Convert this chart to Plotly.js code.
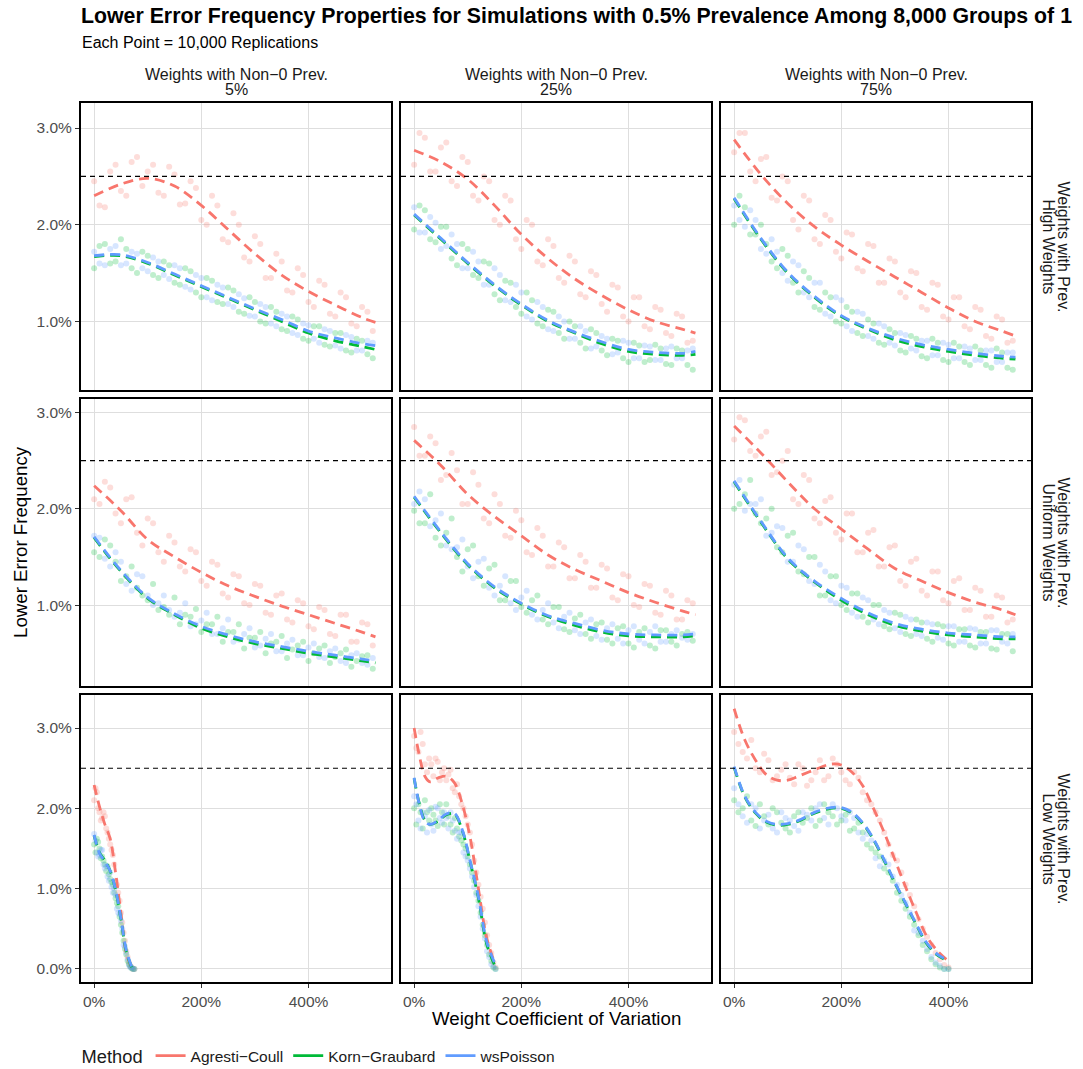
<!DOCTYPE html>
<html><head><meta charset="utf-8">
<script src="https://cdn.plot.ly/plotly-3.0.1.min.js"></script>
<style>html,body{margin:0;padding:0;background:#fff}</style>
</head><body><div id="chart" style="width:1083px;height:1069px"></div>
<script>
// ---------- data (values in percent) ----------
const methods = ['Agresti−Coull', 'Korn−Graubard', 'wsPoisson'];
const colLabels = ['5%', '25%', '75%'];
const rowLabels = ['High Weights', 'Uniform Weights', 'Low Weights'];
const targetLevel = 2.5;
const xTickVals = [0, 200, 400];
const xTickText = ['0%', '200%', '400%'];
const yTickVals = [0, 1, 2, 3];
const yTickText = ['0.0%', '1.0%', '2.0%', '3.0%'];

// rows 1-2 share the same CV grids
const cvGrid = [0,20,40,60,80,100,120,140,160,180,200,220,240,260,280,300,320,340,360,380,400,420,440,460,480,500,520];
const cvGrid2 = [10,30,50,70,90,110,130,150,170,190,210,230,250,270,290,310,330,350,370,390,410,430,450,470,490,510];
const cvSmooth = [0,50,100,150,200,250,300,350,400,450,500,525];

// Row 1: High Weights
const p11_ac = [2.45,2.18,2.62,2.30,2.70,2.55,2.33,2.60,2.21,2.45,2.05,2.30,1.85,2.12,1.66,1.88,1.45,1.70,1.32,1.55,1.20,1.42,1.08,1.30,0.98,1.15,0.90];
const p11_kg = [1.55,1.80,1.62,1.75,1.50,1.68,1.45,1.58,1.38,1.52,1.25,1.42,1.18,1.32,1.08,1.20,0.98,1.10,0.90,1.02,0.80,0.95,0.74,0.88,0.68,0.80,0.62];
const p11_wp = [1.72,1.58,1.78,1.60,1.70,1.52,1.62,1.44,1.55,1.33,1.45,1.22,1.35,1.15,1.24,1.05,1.15,0.95,1.05,0.86,0.96,0.78,0.90,0.72,0.84,0.70,0.78];
const p11_acB = [2.20,2.55,2.35,2.65,2.40,2.62,2.30,2.52,2.22,2.38,2.00,2.20,1.82,2.00,1.62,1.80,1.45,1.62,1.30,1.48,1.15,1.38,1.05,1.25,0.95,1.10];
const p11_kgB = [1.78,1.60,1.85,1.55,1.72,1.48,1.62,1.40,1.55,1.30,1.45,1.20,1.35,1.10,1.25,1.00,1.15,0.92,1.05,0.82,0.95,0.76,0.88,0.70,0.82,0.66];
const p11_wpB = [1.60,1.75,1.58,1.72,1.55,1.66,1.48,1.58,1.36,1.48,1.25,1.38,1.18,1.28,1.06,1.18,0.98,1.08,0.88,0.98,0.82,0.92,0.75,0.86,0.70,0.80];
const p11_acLine = [2.30,2.42,2.48,2.40,2.20,1.95,1.70,1.48,1.31,1.17,1.04,0.99];
const p11_kgLine = [1.67,1.68,1.60,1.48,1.36,1.24,1.12,1.00,0.88,0.80,0.74,0.71];
const p11_wpLine = [1.68,1.69,1.61,1.49,1.37,1.25,1.13,1.02,0.90,0.83,0.77,0.75];

const p12_ac = [2.62,2.90,2.55,2.85,2.40,2.65,2.25,2.45,2.00,2.25,1.75,2.00,1.58,1.78,1.40,1.62,1.25,1.48,1.10,1.35,1.00,1.25,0.92,1.12,0.85,1.05,0.80];
const p12_kg = [1.95,2.15,1.82,1.98,1.58,1.75,1.45,1.60,1.22,1.40,1.08,1.22,0.95,1.10,0.82,0.95,0.72,0.88,0.65,0.80,0.58,0.75,0.60,0.72,0.55,0.70,0.50];
const p12_wp = [2.18,1.92,2.02,1.78,1.80,1.55,1.62,1.38,1.48,1.20,1.30,1.02,1.15,0.90,1.00,0.82,0.90,0.74,0.82,0.68,0.78,0.62,0.74,0.60,0.74,0.62,0.72];
const p12_acB = [2.95,2.55,2.80,2.45,2.70,2.30,2.50,2.05,2.30,1.85,2.05,1.62,1.85,1.45,1.68,1.28,1.52,1.18,1.38,1.05,1.25,0.95,1.15,0.88,1.08,0.78];
const p12_kgB = [2.20,1.85,1.98,1.65,1.80,1.48,1.62,1.28,1.42,1.15,1.30,0.98,1.12,0.88,1.00,0.78,0.92,0.70,0.82,0.62,0.78,0.58,0.76,0.56,0.72,0.55];
const p12_wpB = [1.92,2.08,1.75,1.90,1.55,1.72,1.38,1.55,1.22,1.38,1.05,1.20,0.92,1.05,0.82,0.95,0.72,0.85,0.66,0.80,0.62,0.75,0.60,0.72,0.62,0.70];
const p12_acLine = [2.77,2.65,2.47,2.20,1.90,1.65,1.44,1.27,1.12,1.00,0.92,0.88];
const p12_kgLine = [2.10,1.85,1.60,1.37,1.17,1.00,0.88,0.77,0.69,0.66,0.65,0.66];
const p12_wpLine = [2.11,1.86,1.61,1.38,1.18,1.01,0.89,0.79,0.71,0.68,0.67,0.69];

const p13_ac = [2.75,2.95,2.45,2.70,2.25,2.45,1.95,2.25,1.80,2.05,1.65,1.90,1.52,1.78,1.40,1.62,1.25,1.50,1.12,1.38,1.02,1.25,0.92,1.12,0.82,1.02,0.80];
const p13_kg = [2.00,2.18,1.90,1.80,1.55,1.68,1.30,1.45,1.12,1.25,0.98,1.10,0.85,0.98,0.76,0.88,0.68,0.82,0.62,0.78,0.58,0.74,0.55,0.70,0.52,0.68,0.50];
const p13_wp = [2.20,1.98,2.05,1.70,1.72,1.42,1.58,1.25,1.40,1.05,1.22,0.90,1.08,0.82,0.95,0.75,0.86,0.70,0.80,0.65,0.76,0.62,0.72,0.60,0.70,0.58,0.68];
const p13_acB = [2.95,2.55,2.68,2.28,2.50,2.05,2.30,1.85,2.10,1.72,1.92,1.55,1.80,1.40,1.65,1.30,1.52,1.15,1.40,1.05,1.25,0.95,1.15,0.85,1.05,0.78];
const p13_kgB = [2.30,1.90,2.00,1.62,1.75,1.40,1.52,1.15,1.30,1.00,1.15,0.88,1.02,0.78,0.92,0.70,0.85,0.64,0.82,0.60,0.78,0.58,0.74,0.55,0.72,0.52];
const p13_wpB = [2.05,2.15,1.75,1.85,1.50,1.62,1.30,1.40,1.08,1.25,0.95,1.10,0.85,0.98,0.78,0.88,0.72,0.80,0.65,0.78,0.62,0.74,0.60,0.70,0.58,0.68];
const p13_acLine = [2.88,2.52,2.22,1.98,1.79,1.62,1.46,1.30,1.14,1.00,0.90,0.85];
const p13_kgLine = [2.27,1.85,1.50,1.25,1.05,0.92,0.81,0.74,0.69,0.65,0.62,0.61];
const p13_wpLine = [2.28,1.86,1.51,1.26,1.06,0.93,0.83,0.76,0.71,0.67,0.64,0.63];

// Row 2: Uniform Weights
const p21_ac = [2.10,2.28,1.95,2.10,1.75,1.90,1.55,1.72,1.40,1.58,1.25,1.45,1.12,1.32,1.02,1.22,0.92,1.10,0.85,1.05,0.78,0.98,0.70,0.90,0.62,0.82,0.58];
const p21_kg = [1.55,1.68,1.45,1.30,1.18,1.05,0.95,0.90,0.80,0.88,0.72,0.80,0.62,0.72,0.55,0.66,0.50,0.62,0.45,0.58,0.42,0.55,0.40,0.50,0.36,0.47,0.34];
const p21_wp = [1.72,1.48,1.55,1.22,1.32,1.10,1.02,0.95,0.92,0.78,0.84,0.70,0.76,0.62,0.70,0.56,0.65,0.52,0.60,0.48,0.56,0.46,0.52,0.42,0.48,0.40,0.45];
const p21_acB = [2.05,2.22,1.85,2.12,1.62,1.85,1.45,1.65,1.35,1.55,1.20,1.42,1.08,1.30,1.00,1.20,0.90,1.12,0.82,1.02,0.75,0.95,0.68,0.90,0.62,0.80];
const p21_kgB = [1.50,1.62,1.25,1.40,1.10,1.22,0.98,1.08,0.90,0.96,0.80,0.88,0.72,0.80,0.66,0.72,0.60,0.68,0.54,0.62,0.50,0.58,0.46,0.54,0.42,0.48];
const p21_wpB = [1.70,1.40,1.45,1.15,1.30,1.00,1.10,0.88,1.02,0.80,0.92,0.70,0.85,0.64,0.76,0.58,0.70,0.52,0.64,0.48,0.60,0.45,0.55,0.40,0.50,0.38];
const p21_acLine = [2.24,1.98,1.68,1.50,1.34,1.20,1.09,0.99,0.90,0.81,0.72,0.67];
const p21_kgLine = [1.70,1.35,1.07,0.90,0.76,0.67,0.60,0.55,0.50,0.46,0.42,0.40];
const p21_wpLine = [1.71,1.36,1.08,0.91,0.78,0.69,0.62,0.57,0.52,0.48,0.44,0.42];

const p22_ac = [2.85,2.55,2.68,2.35,2.40,2.05,2.25,1.85,2.05,1.70,1.88,1.52,1.72,1.40,1.60,1.28,1.45,1.18,1.38,1.05,1.30,0.98,1.20,0.90,1.10,0.85,1.02];
const p22_kg = [1.98,1.85,1.70,1.75,1.50,1.58,1.30,1.38,1.05,1.25,0.98,1.05,0.85,0.98,0.75,0.86,0.70,0.80,0.64,0.76,0.60,0.72,0.58,0.74,0.62,0.70,0.63];
const p22_wp = [2.05,2.10,1.88,1.62,1.60,1.40,1.45,1.18,1.20,1.02,1.08,0.90,0.95,0.82,0.88,0.74,0.82,0.68,0.76,0.65,0.74,0.64,0.72,0.62,0.70,0.66,0.70];
const p22_acB = [2.55,2.75,2.30,2.58,2.05,2.38,1.90,2.15,1.72,1.98,1.55,1.80,1.40,1.65,1.28,1.52,1.18,1.42,1.08,1.32,1.00,1.22,0.92,1.15,0.85,1.05];
const p22_kgB = [1.85,2.15,1.62,1.90,1.35,1.62,1.20,1.42,1.05,1.25,0.92,1.10,0.80,0.98,0.72,0.90,0.65,0.82,0.60,0.78,0.56,0.76,0.55,0.74,0.58,0.72];
const p22_wpB = [2.18,1.82,1.95,1.58,1.68,1.28,1.48,1.10,1.30,0.95,1.15,0.85,1.02,0.76,0.92,0.70,0.85,0.64,0.80,0.60,0.78,0.60,0.78,0.62,0.74,0.64];
const p22_acLine = [2.71,2.45,2.15,1.92,1.72,1.52,1.37,1.25,1.13,1.03,0.94,0.90];
const p22_kgLine = [2.12,1.75,1.42,1.18,1.01,0.88,0.79,0.72,0.68,0.67,0.67,0.68];
const p22_wpLine = [2.13,1.76,1.43,1.19,1.02,0.89,0.81,0.74,0.70,0.69,0.69,0.70];

const p23_ac = [2.72,2.92,2.55,2.80,2.38,2.60,2.05,2.30,1.85,2.12,1.68,1.95,1.55,1.78,1.40,1.62,1.20,1.48,1.10,1.35,1.02,1.28,0.95,1.15,0.88,1.08,0.85];
const p23_kg = [2.00,2.15,1.95,1.90,1.60,1.72,1.35,1.50,1.10,1.30,1.00,1.12,0.88,1.00,0.78,0.92,0.70,0.85,0.65,0.80,0.60,0.75,0.58,0.72,0.55,0.70,0.52];
const p23_wp = [2.25,1.98,2.05,1.72,1.82,1.45,1.62,1.25,1.42,1.05,1.20,0.92,1.08,0.85,0.95,0.76,0.88,0.70,0.82,0.66,0.78,0.62,0.76,0.60,0.74,0.62,0.70];
const p23_acB = [2.95,2.60,2.75,2.35,2.50,2.10,2.35,1.90,2.08,1.75,1.95,1.55,1.75,1.40,1.60,1.25,1.45,1.15,1.35,1.05,1.25,0.95,1.18,0.88,1.10,0.82];
const p23_kgB = [2.05,2.30,1.85,2.00,1.55,1.75,1.32,1.50,1.10,1.30,0.95,1.12,0.82,1.00,0.75,0.90,0.68,0.82,0.62,0.78,0.58,0.75,0.56,0.72,0.54,0.70];
const p23_wpB = [2.30,2.05,2.10,1.75,1.80,1.45,1.58,1.22,1.35,1.02,1.18,0.88,1.05,0.80,0.92,0.72,0.85,0.68,0.80,0.64,0.78,0.62,0.75,0.60,0.74,0.60];
const p23_acLine = [2.86,2.58,2.28,2.00,1.79,1.58,1.38,1.25,1.13,1.03,0.95,0.90];
const p23_kgLine = [2.28,1.86,1.48,1.24,1.05,0.90,0.79,0.73,0.69,0.67,0.65,0.65];
const p23_wpLine = [2.29,1.87,1.49,1.25,1.07,0.92,0.81,0.75,0.71,0.69,0.67,0.67];

// Row 3: Low Weights (each panel has its own CV span)
const cv31 = [0,5,10,15,20,25,30,35,40,45,50,55,60,65,70,75];
const cv31b = [2.5,7.5,12.5,17.5,22.5,27.5,32.5,37.5,42.5,47.5,52.5,57.5,62.5,67.5,72.5];
const p31_ac = [2.10,2.20,1.95,1.88,1.90,1.70,1.55,1.42,1.10,0.95,0.70,0.45,0.22,0.08,0.02,0.00];
const p31_kg = [1.55,1.62,1.50,1.40,1.30,1.28,1.12,1.05,0.88,0.78,0.55,0.35,0.18,0.06,0.01,0.00];
const p31_wp = [1.68,1.45,1.42,1.48,1.25,1.15,1.20,0.95,0.92,0.70,0.60,0.30,0.20,0.05,0.02,0.00];
const p31_acB = [2.25,2.00,1.85,1.95,1.75,1.62,1.48,1.30,1.05,0.85,0.58,0.35,0.15,0.04,0.00];
const p31_kgB = [1.45,1.58,1.38,1.35,1.22,1.18,1.08,0.95,0.82,0.65,0.45,0.25,0.10,0.03,0.00];
const p31_wpB = [1.60,1.40,1.48,1.30,1.28,1.10,1.02,1.00,0.75,0.68,0.50,0.28,0.12,0.02,0.00];
const cv31Smooth = [0,10,20,30,40,50,60,70];
const p31_acLine = [2.29,2.02,1.80,1.62,1.20,0.70,0.20,0.02];
const p31_kgLine = [1.66,1.45,1.35,1.22,0.98,0.62,0.22,0.02];
const p31_wpLine = [1.67,1.44,1.34,1.22,0.99,0.63,0.23,0.03];

const cv32 = [0,8,16,24,32,40,48,56,64,72,80,88,96,104,112,120,128,136,144,152];
const cv32b = [4,12,20,28,36,44,52,60,68,76,84,92,100,108,116,124,132,140,148];
const p32_ac = [2.90,2.70,2.80,2.45,2.55,2.62,2.35,2.50,2.42,2.25,2.30,2.05,1.90,1.70,1.35,1.05,0.75,0.42,0.20,0.02];
const p32_kg = [2.00,2.05,1.75,1.95,2.00,1.85,2.05,1.80,1.90,1.70,1.75,1.60,1.50,1.30,1.10,0.85,0.55,0.30,0.10,0.00];
const p32_wp = [2.15,1.85,1.95,1.70,1.80,2.02,1.88,1.95,1.75,1.85,1.62,1.70,1.40,1.25,1.02,0.78,0.50,0.22,0.06,0.00];
const p32_acB = [2.75,2.95,2.55,2.62,2.40,2.58,2.45,2.35,2.48,2.20,2.15,2.00,1.80,1.55,1.20,0.90,0.58,0.30,0.08];
const p32_kgB = [1.80,1.95,2.10,1.85,1.92,1.78,1.95,2.05,1.80,1.88,1.65,1.55,1.40,1.20,0.95,0.70,0.42,0.18,0.02];
const p32_wpB = [2.05,1.75,1.90,1.98,1.72,2.00,1.82,1.88,1.95,1.72,1.70,1.45,1.35,1.15,0.92,0.65,0.38,0.15,0.03];
const cv32Smooth = [0,10,20,30,45,60,75,90,105,120,135,150];
const p32_acLine = [3.00,2.65,2.40,2.33,2.38,2.40,2.32,2.05,1.62,1.00,0.40,0.08];
const p32_kgLine = [2.37,2.05,1.85,1.80,1.84,1.92,1.93,1.72,1.32,0.88,0.32,0.05];
const p32_wpLine = [2.38,2.04,1.84,1.80,1.85,1.93,1.94,1.73,1.33,0.90,0.35,0.08];

const cv33 = [0,16,32,48,64,80,96,112,128,144,160,176,192,208,224,240,256,272,288,304,320,336,352,368,384,400];
const cv33b = [8,24,40,56,72,88,104,120,136,152,168,184,200,216,232,248,264,280,296,312,328,344,360,376,392];
const p33_ac = [2.95,2.70,2.85,2.45,2.60,2.40,2.55,2.30,2.50,2.35,2.60,2.40,2.55,2.35,2.45,2.20,2.05,1.85,1.55,1.35,1.05,0.78,0.50,0.30,0.12,0.02];
const p33_kg = [2.10,2.00,1.85,2.05,1.80,1.95,1.75,1.90,1.82,2.00,1.85,1.95,1.80,1.92,1.75,1.70,1.50,1.40,1.20,0.95,0.75,0.55,0.30,0.12,0.02,0.00];
const p33_wp = [2.25,1.90,2.05,1.75,1.92,1.70,1.88,1.78,1.95,1.85,2.05,1.80,2.00,1.85,1.88,1.62,1.60,1.28,1.30,1.05,0.82,0.48,0.35,0.15,0.04,0.00];
const p33_acB = [2.80,2.62,2.50,2.68,2.35,2.48,2.38,2.55,2.28,2.45,2.35,2.62,2.45,2.30,2.38,2.10,1.95,1.70,1.42,1.20,0.92,0.62,0.40,0.20,0.05];
const p33_kgB = [1.95,2.15,1.78,1.90,2.00,1.82,1.70,1.95,1.88,1.78,2.05,1.90,1.85,1.72,1.82,1.55,1.45,1.25,1.10,0.85,0.65,0.42,0.22,0.06,0.00];
const p33_wpB = [2.05,1.82,2.00,1.85,1.75,1.95,1.85,1.72,1.92,2.00,1.88,2.05,1.90,1.95,1.70,1.68,1.38,1.35,1.15,0.92,0.70,0.45,0.25,0.08,0.00];
const cv33Smooth = [0,20,40,60,80,100,120,150,180,200,220,240,260,280,300,320,340,360,380,396];
const p33_acLine = [3.24,2.85,2.60,2.42,2.35,2.35,2.40,2.48,2.55,2.54,2.45,2.28,2.00,1.70,1.36,1.02,0.70,0.40,0.22,0.12];
const p33_kgLine = [2.51,2.14,1.94,1.83,1.79,1.80,1.84,1.94,2.00,2.00,1.94,1.81,1.61,1.35,1.07,0.81,0.55,0.31,0.17,0.11];
const p33_wpLine = [2.52,2.15,1.95,1.84,1.80,1.81,1.85,1.95,2.01,2.01,1.95,1.82,1.62,1.36,1.08,0.82,0.56,0.32,0.18,0.12];

// ---------- assemble ----------
function panel(xa, xb, a, b, lx, lines) {
  return {px: xa.concat(xb), pts: [a[0].concat(b[0]), a[1].concat(b[1]), a[2].concat(b[2])], lx: lx, lines: lines};
}
const panels = [
  panel(cvGrid, cvGrid2, [p11_ac, p11_kg, p11_wp], [p11_acB, p11_kgB, p11_wpB], cvSmooth, [p11_acLine, p11_kgLine, p11_wpLine]),
  panel(cvGrid, cvGrid2, [p12_ac, p12_kg, p12_wp], [p12_acB, p12_kgB, p12_wpB], cvSmooth, [p12_acLine, p12_kgLine, p12_wpLine]),
  panel(cvGrid, cvGrid2, [p13_ac, p13_kg, p13_wp], [p13_acB, p13_kgB, p13_wpB], cvSmooth, [p13_acLine, p13_kgLine, p13_wpLine]),
  panel(cvGrid, cvGrid2, [p21_ac, p21_kg, p21_wp], [p21_acB, p21_kgB, p21_wpB], cvSmooth, [p21_acLine, p21_kgLine, p21_wpLine]),
  panel(cvGrid, cvGrid2, [p22_ac, p22_kg, p22_wp], [p22_acB, p22_kgB, p22_wpB], cvSmooth, [p22_acLine, p22_kgLine, p22_wpLine]),
  panel(cvGrid, cvGrid2, [p23_ac, p23_kg, p23_wp], [p23_acB, p23_kgB, p23_wpB], cvSmooth, [p23_acLine, p23_kgLine, p23_wpLine]),
  panel(cv31, cv31b, [p31_ac, p31_kg, p31_wp], [p31_acB, p31_kgB, p31_wpB], cv31Smooth, [p31_acLine, p31_kgLine, p31_wpLine]),
  panel(cv32, cv32b, [p32_ac, p32_kg, p32_wp], [p32_acB, p32_kgB, p32_wpB], cv32Smooth, [p32_acLine, p32_kgLine, p32_wpLine]),
  panel(cv33, cv33b, [p33_ac, p33_kg, p33_wp], [p33_acB, p33_kgB, p33_wpB], cv33Smooth, [p33_acLine, p33_kgLine, p33_wpLine])
];

const W = 1083, H = 1069;
const colors = ['#F8766D', '#00BA38', '#619CFF'];
const colPx = [[81, 391], [401, 711], [721, 1031]];
const rowPx = [[103, 390], [399, 686], [695, 982]];
const yRanges = [[0.291, 3.259], [0.16, 3.14], [-0.162, 3.411]];
const xRange = [-24.5, 554];
const FONT = 'Liberation Sans, Arial, sans-serif';

const traces = [];
const layout = {
  width: W, height: H,
  margin: {l: 0, r: 0, t: 0, b: 0, autoexpand: false},
  paper_bgcolor: '#fff', plot_bgcolor: '#fff',
  font: {family: FONT, size: 15.5, color: '#1A1A1A'},
  showlegend: true,
  legend: {
    orientation: 'h', x: 0.0735, xanchor: 'left', y: 1 - 1056 / H, yanchor: 'middle',
    title: {text: 'Method', font: {size: 18.3, color: '#1A1A1A'}, side: 'left'},
    font: {size: 15.5, color: '#1A1A1A'}, itemwidth: 30, tracegroupgap: 0,
    bgcolor: 'rgba(0,0,0,0)'
  },
  shapes: [], annotations: []
};

panels.forEach((p, i) => {
  const r = Math.floor(i / 3), c = i % 3, k = i + 1;
  const xa = 'x' + (k === 1 ? '' : k), ya = 'y' + (k === 1 ? '' : k);
  for (let m = 0; m < 3; m++) {
    traces.push({
      type: 'scatter', mode: 'markers', x: p.px, y: p.pts[m], xaxis: xa, yaxis: ya,
      marker: {color: colors[m], size: 6, opacity: 0.25, line: {width: 0}},
      showlegend: false, hoverinfo: 'skip'
    });
  }
  for (let m = 0; m < 3; m++) {
    traces.push({
      type: 'scatter', mode: 'lines', x: p.lx, y: p.lines[m], xaxis: xa, yaxis: ya,
      line: {color: colors[m], width: 2.8, dash: '10px,6px', shape: 'spline', smoothing: 1},
      showlegend: false, hoverinfo: 'skip'
    });
  }
  layout['xaxis' + (k === 1 ? '' : k)] = {
    domain: [colPx[c][0] / W, colPx[c][1] / W], range: xRange, anchor: ya,
    tickvals: xTickVals, ticktext: xTickText, showticklabels: r === 2,
    ticks: r === 2 ? 'outside' : '', ticklen: 4, tickcolor: '#333', tickwidth: 1,
    tickfont: {size: 15.5, color: '#4D4D4D'}, automargin: false,
    showgrid: true, gridcolor: '#DEDEDE', gridwidth: 1, zeroline: false,
    showline: true, mirror: true, linecolor: '#000', linewidth: 2
  };
  layout['yaxis' + (k === 1 ? '' : k)] = {
    domain: [1 - rowPx[r][1] / H, 1 - rowPx[r][0] / H], range: yRanges[r], anchor: xa,
    tickvals: yTickVals, ticktext: yTickText, showticklabels: c === 0,
    ticks: c === 0 ? 'outside' : '', ticklen: 4, tickcolor: '#333', tickwidth: 1,
    tickfont: {size: 15.5, color: '#4D4D4D'}, automargin: false,
    showgrid: true, gridcolor: '#DEDEDE', gridwidth: 1, zeroline: false,
    showline: true, mirror: true, linecolor: '#000', linewidth: 2
  };
  layout.shapes.push({
    type: 'line', xref: xa + ' domain', yref: ya, x0: 0, x1: 1, y0: targetLevel, y1: targetLevel,
    line: {color: '#000', width: 1.1, dash: '5px,4px'}, layer: 'above'
  });
});

// legend-only traces
for (let m = 0; m < 3; m++) {
  traces.push({
    type: 'scatter', mode: 'lines', x: [null], y: [null], name: methods[m],
    line: {color: colors[m], width: 2.8}, showlegend: true, hoverinfo: 'skip'
  });
}

const ann = layout.annotations;
ann.push({text: '<b>Lower Error Frequency Properties for Simulations with 0.5% Prevalence Among 8,000 Groups of 1</b>',
  xref: 'paper', yref: 'paper', x: 79 / W, y: 1 - 16 / H, xanchor: 'left', yanchor: 'middle',
  showarrow: false, font: {size: 21.3, color: '#000'}});
ann.push({text: 'Each Point = 10,000 Replications',
  xref: 'paper', yref: 'paper', x: 80 / W, y: 1 - 43 / H, xanchor: 'left', yanchor: 'middle',
  showarrow: false, font: {size: 16, color: '#000'}});
colLabels.forEach((t, c) => {
  const cx = (colPx[c][0] + colPx[c][1]) / 2 / W;
  ann.push({text: 'Weights with Non−0 Prev.', xref: 'paper', yref: 'paper',
    x: cx, y: 1 - 75 / H, xanchor: 'center', yanchor: 'middle',
    showarrow: false, font: {size: 16, color: '#1A1A1A'}});
  ann.push({text: t, xref: 'paper', yref: 'paper',
    x: cx, y: 1 - 90 / H, xanchor: 'center', yanchor: 'middle',
    showarrow: false, font: {size: 16, color: '#1A1A1A'}});
});
rowLabels.forEach((t, r) => {
  const cy = 1 - (rowPx[r][0] + rowPx[r][1]) / 2 / H;
  ann.push({text: 'Weights with Prev.', xref: 'paper', yref: 'paper', textangle: 90,
    x: 1063 / W, y: cy, xanchor: 'center', yanchor: 'middle',
    showarrow: false, font: {size: 16, color: '#1A1A1A'}});
  ann.push({text: t, xref: 'paper', yref: 'paper', textangle: 90,
    x: 1048 / W, y: cy, xanchor: 'center', yanchor: 'middle',
    showarrow: false, font: {size: 16, color: '#1A1A1A'}});
});
ann.push({text: 'Lower Error Frequency', xref: 'paper', yref: 'paper', textangle: -90,
  x: 20 / W, y: 1 - 542 / H, xanchor: 'center', yanchor: 'middle', showarrow: false,
  font: {size: 18.7, color: '#000'}});
ann.push({text: 'Weight Coefficient of Variation', xref: 'paper', yref: 'paper',
  x: 556 / W, y: 1 - 1018 / H, xanchor: 'center', yanchor: 'middle', showarrow: false,
  font: {size: 18.7, color: '#000'}});

Plotly.newPlot('chart', traces, layout, {displayModeBar: false, staticPlot: true});
</script></body></html>
